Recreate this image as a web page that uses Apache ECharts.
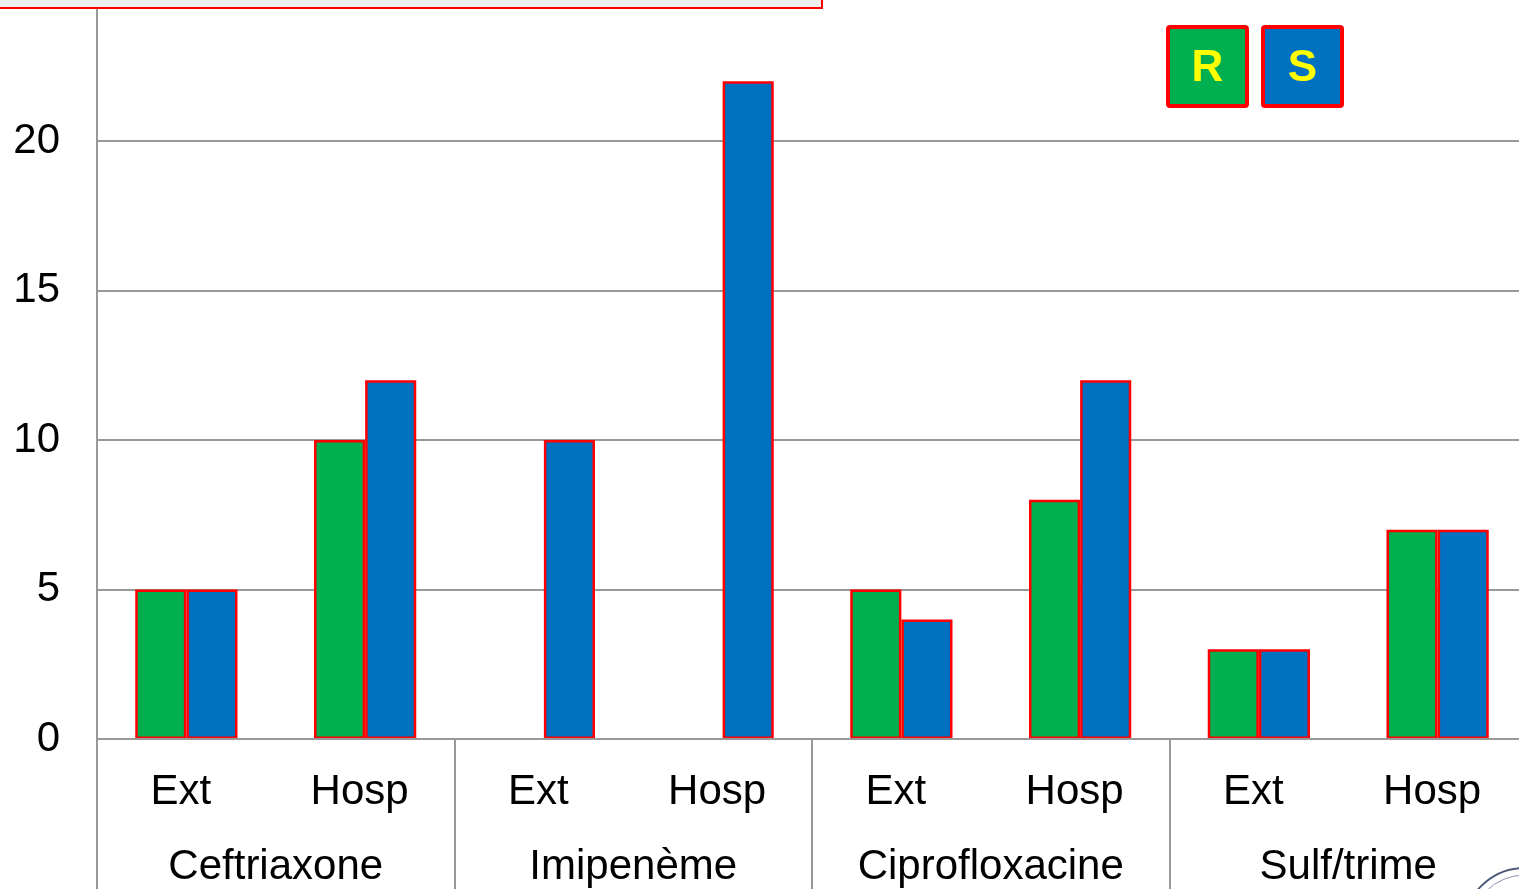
<!DOCTYPE html>
<html>
<head>
<meta charset="utf-8">
<script src="https://cdn.jsdelivr.net/npm/echarts@6/dist/echarts.min.js"></script>
<style>
  html, body { margin: 0; padding: 0; background: #fff; }
  #chart { width: 1519px; height: 889px; }
</style>
</head>
<body>
<div id="chart"></div>
<script>
// Antibiotic results by origin: R (resistant) vs S (sensitive)
const groups = ['Ceftriaxone', 'Imipenème', 'Ciprofloxacine', 'Sulf/trime'];
const origins = ['Ext', 'Hosp'];
const categories = groups.flatMap(() => origins);
const valuesR = [5, 10, 0, 0, 5, 8, 3, 7];
const valuesS = [5, 12, 10, 22, 4, 12, 3, 7];
const yTicks = [0, 5, 10, 15, 20, 25];

const seriesDefs = [
  { name: 'R', color: '#00B050', values: valuesR },
  { name: 'S', color: '#0070C0', values: valuesS }
];

const FONT = '"Liberation Sans", Arial, sans-serif';

const chart = echarts.init(document.getElementById('chart'));

// legend boxes with the series letter inside
const legendGraphics = seriesDefs.map((s, i) => ({
  type: 'group',
  left: 1166 + i * 95,
  top: 25,
  children: [
    { type: 'rect', shape: { x: 0, y: 0, width: 79, height: 79, r: 2 },
      style: { fill: s.color, stroke: '#FF0000', lineWidth: 4 } },
    { type: 'text', x: 39.5, y: 42,
      style: { text: s.name, fill: '#FFFF00', font: 'bold 44px ' + FONT,
               align: 'center', verticalAlign: 'middle' } }
  ]
}));

chart.setOption({
  animation: false,
  backgroundColor: '#ffffff',
  grid: {
    left: 97, right: -8, top: -8.5, bottom: 150,
    containLabel: false,
    outerBoundsMode: 'none'
  },
  xAxis: [
    {
      type: 'category',
      data: categories,
      z: 5,
      axisLine: { show: true, lineStyle: { color: '#999999', width: 2 } },
      axisTick: { show: false },
      axisLabel: { color: '#000', fontSize: 42, fontFamily: FONT, margin: 32, interval: 0,
                   padding: [0, 11, 0, 0] }
    },
    {
      type: 'category',
      data: groups,
      position: 'bottom',
      z: 5,
      axisLine: { show: false },
      axisTick: { show: true, interval: 0, length: 152, inside: false,
                  lineStyle: { color: '#999999', width: 2 } },
      axisLabel: { color: '#000', fontSize: 42, fontFamily: FONT, margin: 107, interval: 0 }
    }
  ],
  yAxis: {
    type: 'value',
    min: yTicks[0],
    max: yTicks[yTicks.length - 1],
    interval: yTicks[1] - yTicks[0],
    axisLine: { show: true, lineStyle: { color: '#999999', width: 2 } },
    axisTick: { show: false },
    axisLabel: { color: '#000', fontSize: 42, fontFamily: FONT, margin: 37, padding: [4, 0, 0, 0] },
    splitLine: { show: true, lineStyle: { color: '#999999', width: 2 } }
  },
  series: seriesDefs.map(s => ({
    name: s.name,
    type: 'bar',
    xAxisIndex: 0,
    barWidth: '28.6%',
    barGap: '0%',
    itemStyle: { color: s.color, borderColor: '#FF0000', borderWidth: 2.5 },
    data: s.values.map(v => v === 0 ? { value: v, itemStyle: { borderWidth: 0 } } : v)
  })),
  graphic: [
    // strip of the box above the chart
    { type: 'rect', left: -2, top: -10, z: 10,
      shape: { x: 0, y: 0, width: 823, height: 17 },
      style: { fill: '#F0F0F0', stroke: '#FF0000', lineWidth: 2 } },
    // edge of the stamp in the corner
    { type: 'circle', z: 10,
      shape: { cx: 1525, cy: 930, r: 62 },
      style: { fill: 'rgba(0,0,0,0)', stroke: '#4a5a78', lineWidth: 2 } },
    { type: 'circle', z: 10,
      shape: { cx: 1525, cy: 930, r: 55 },
      style: { fill: 'rgba(0,0,0,0)', stroke: '#8a94aa', lineWidth: 1 } },
    ...legendGraphics
  ]
});
</script>
</body>
</html>
